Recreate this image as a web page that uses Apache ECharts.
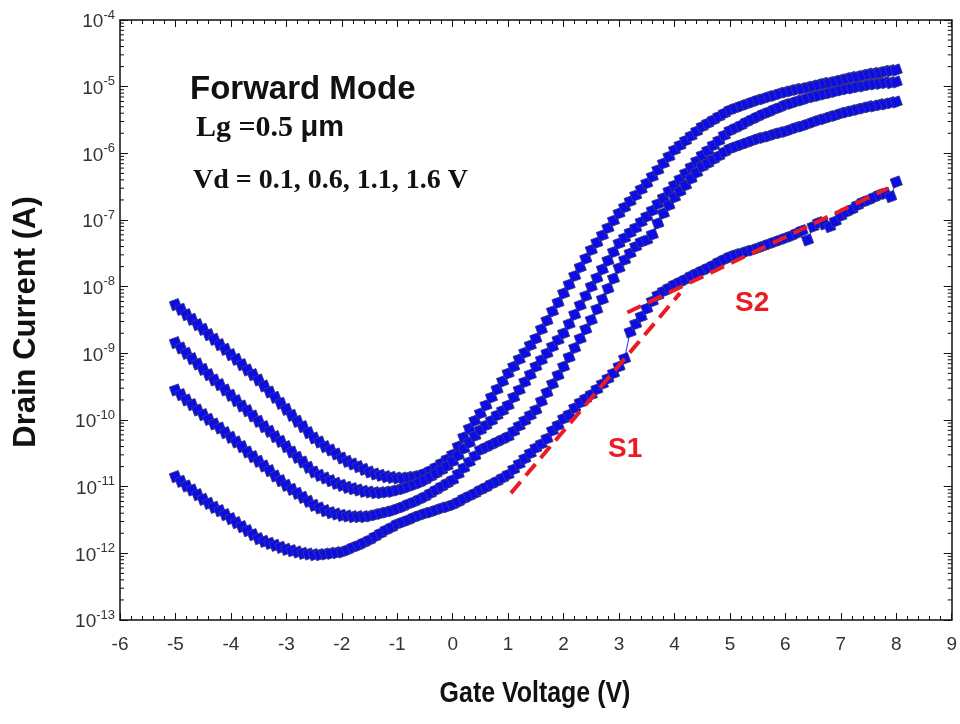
<!DOCTYPE html>
<html>
<head>
<meta charset="utf-8">
<title>Forward Mode Id-Vg</title>
<script src="https://cdn.jsdelivr.net/npm/echarts@6/dist/echarts.min.js"></script>
<style>
  html, body { margin: 0; padding: 0; background: #fff; }
  #main { width: 960px; height: 724px; }
</style>
</head>
<body>
<div id="main"></div>
<script>
// gate voltage (V), one point every 0.1 V
var vg = [
  -5.0,-4.9,-4.8,-4.7,-4.6,-4.5,-4.4,-4.3,-4.2,-4.1,
  -4.0,-3.9,-3.8,-3.7,-3.6,-3.5,-3.4,-3.3,-3.2,-3.1,
  -3.0,-2.9,-2.8,-2.7,-2.6,-2.5,-2.4,-2.3,-2.2,-2.1,
  -2.0,-1.9,-1.8,-1.7,-1.6,-1.5,-1.4,-1.3,-1.2,-1.1,
  -1.0,-0.9,-0.8,-0.7,-0.6,-0.5,-0.4,-0.3,-0.2,-0.1,
  0.0,0.1,0.2,0.3,0.4,0.5,0.6,0.7,0.8,0.9,
  1.0,1.1,1.2,1.3,1.4,1.5,1.6,1.7,1.8,1.9,
  2.0,2.1,2.2,2.3,2.4,2.5,2.6,2.7,2.8,2.9,
  3.0,3.1,3.2,3.3,3.4,3.5,3.6,3.7,3.8,3.9,
  4.0,4.1,4.2,4.3,4.4,4.5,4.6,4.7,4.8,4.9,
  5.0,5.1,5.2,5.3,5.4,5.5,5.6,5.7,5.8,5.9,
  6.0,6.1,6.2,6.3,6.4,6.5,6.6,6.7,6.8,6.9,
  7.0,7.1,7.2,7.3,7.4,7.5,7.6,7.7,7.8,7.9,
  8.0
];

// log10 of drain current (A)
// Vd = 1.6 V (top curve)
var logId16 = [
  -8.27,-8.34,-8.42,-8.49,-8.57,-8.64,-8.72,-8.79,-8.87,-8.94,
  -9.02,-9.09,-9.17,-9.25,-9.32,-9.40,-9.49,-9.58,-9.66,-9.75,
  -9.84,-9.93,-10.02,-10.10,-10.19,-10.27,-10.33,-10.40,-10.45,-10.51,
  -10.57,-10.62,-10.66,-10.70,-10.74,-10.78,-10.81,-10.83,-10.85,-10.86,
  -10.87,-10.87,-10.86,-10.85,-10.83,-10.80,-10.76,-10.71,-10.65,-10.59,
  -10.52,-10.40,-10.26,-10.13,-10.01,-9.90,-9.78,-9.66,-9.54,-9.42,
  -9.30,-9.20,-9.09,-8.99,-8.88,-8.78,-8.64,-8.51,-8.37,-8.24,
  -8.10,-7.97,-7.84,-7.71,-7.58,-7.45,-7.34,-7.23,-7.12,-7.01,
  -6.90,-6.81,-6.72,-6.63,-6.54,-6.45,-6.35,-6.25,-6.15,-6.05,
  -5.95,-5.88,-5.81,-5.74,-5.67,-5.60,-5.55,-5.50,-5.45,-5.40,
  -5.35,-5.32,-5.29,-5.26,-5.23,-5.20,-5.18,-5.15,-5.13,-5.10,
  -5.08,-5.06,-5.04,-5.03,-5.01,-4.99,-4.97,-4.95,-4.94,-4.92,
  -4.90,-4.88,-4.86,-4.85,-4.83,-4.81,-4.80,-4.79,-4.77,-4.76,
  -4.75
];
// Vd = 1.1 V
var logId11 = [
  -8.84,-8.92,-9.00,-9.08,-9.16,-9.24,-9.32,-9.40,-9.47,-9.55,
  -9.63,-9.71,-9.79,-9.86,-9.94,-10.02,-10.10,-10.17,-10.25,-10.32,
  -10.40,-10.48,-10.56,-10.63,-10.71,-10.78,-10.83,-10.87,-10.91,-10.95,
  -10.98,-11.01,-11.03,-11.05,-11.07,-11.08,-11.09,-11.09,-11.08,-11.07,
  -11.05,-11.03,-11.00,-10.97,-10.94,-10.90,-10.85,-10.80,-10.75,-10.69,
  -10.62,-10.53,-10.43,-10.34,-10.24,-10.15,-10.08,-10.01,-9.93,-9.86,
  -9.78,-9.66,-9.55,-9.43,-9.32,-9.20,-9.10,-9.00,-8.90,-8.80,
  -8.70,-8.56,-8.42,-8.28,-8.14,-8.00,-7.87,-7.74,-7.61,-7.48,
  -7.35,-7.27,-7.19,-7.12,-7.03,-6.95,-6.86,-6.76,-6.67,-6.57,
  -6.48,-6.39,-6.30,-6.21,-6.12,-6.03,-5.96,-5.88,-5.81,-5.73,
  -5.66,-5.62,-5.58,-5.53,-5.49,-5.45,-5.41,-5.38,-5.34,-5.31,
  -5.27,-5.25,-5.22,-5.20,-5.17,-5.15,-5.13,-5.11,-5.09,-5.07,
  -5.05,-5.03,-5.02,-5.00,-4.99,-4.97,-4.96,-4.95,-4.94,-4.94,
  -4.93
];
// Vd = 0.6 V
var logId06 = [
  -9.55,-9.62,-9.70,-9.77,-9.85,-9.92,-9.99,-10.06,-10.12,-10.19,
  -10.26,-10.33,-10.40,-10.48,-10.55,-10.62,-10.69,-10.76,-10.84,-10.91,
  -10.98,-11.04,-11.10,-11.16,-11.22,-11.28,-11.32,-11.36,-11.39,-11.41,
  -11.43,-11.44,-11.45,-11.45,-11.45,-11.44,-11.42,-11.40,-11.38,-11.36,
  -11.33,-11.30,-11.26,-11.23,-11.19,-11.15,-11.10,-11.05,-11.00,-10.95,
  -10.90,-10.81,-10.72,-10.63,-10.54,-10.45,-10.41,-10.37,-10.33,-10.29,
  -10.25,-10.17,-10.09,-10.01,-9.93,-9.85,-9.72,-9.59,-9.46,-9.33,
  -9.20,-9.06,-8.92,-8.78,-8.64,-8.50,-8.34,-8.19,-8.03,-7.88,
  -7.72,-7.60,-7.50,-7.40,-7.33,-7.30,-7.22,-7.05,-6.90,-6.78,
  -6.66,-6.57,-6.48,-6.38,-6.29,-6.20,-6.15,-6.09,-6.04,-5.98,
  -5.93,-5.90,-5.87,-5.84,-5.81,-5.78,-5.76,-5.74,-5.71,-5.69,
  -5.67,-5.64,-5.61,-5.59,-5.56,-5.53,-5.50,-5.48,-5.45,-5.43,
  -5.40,-5.38,-5.36,-5.34,-5.32,-5.30,-5.29,-5.27,-5.26,-5.24,
  -5.23
];
// Vd = 0.1 V (bottom curve)
var logId01 = [
  -10.85,-10.92,-10.99,-11.05,-11.12,-11.19,-11.25,-11.31,-11.36,-11.42,
  -11.48,-11.54,-11.60,-11.66,-11.72,-11.78,-11.82,-11.85,-11.88,-11.91,
  -11.94,-11.96,-11.98,-12.00,-12.01,-12.02,-12.02,-12.01,-12.00,-11.99,
  -11.98,-11.95,-11.91,-11.88,-11.84,-11.80,-11.75,-11.70,-11.65,-11.61,
  -11.56,-11.53,-11.50,-11.46,-11.43,-11.40,-11.38,-11.35,-11.32,-11.30,
  -11.27,-11.23,-11.18,-11.14,-11.10,-11.05,-11.01,-10.96,-10.92,-10.87,
  -10.82,-10.74,-10.66,-10.58,-10.50,-10.42,-10.36,-10.28,-10.16,-10.08,
  -9.98,-9.92,-9.82,-9.74,-9.68,-9.62,-9.54,-9.46,-9.38,-9.30,
  -9.20,-9.08,-8.68,-8.56,-8.45,-8.33,-8.22,-8.13,-8.07,-8.02,
  -7.97,-7.93,-7.89,-7.84,-7.80,-7.76,-7.72,-7.68,-7.63,-7.59,
  -7.55,-7.52,-7.50,-7.47,-7.45,-7.42,-7.39,-7.36,-7.33,-7.30,
  -7.27,-7.24,-7.20,-7.16,-7.30,-7.10,-7.04,-7.06,-7.10,-7.02,
  -6.94,-6.88,-6.84,-6.78,-6.73,-6.70,-6.66,-6.62,-6.60,-6.65,
  -6.43
];

// red dashed fit lines (end points)
var s1Vg = [1.05, 4.1];
var s1Id = [8e-12, 8e-9];
var s2Vg = [3.15, 7.85];
var s2Id = [4.1e-9, 3.0e-7];

var xTicks = { min: -6, max: 9, step: 1 };
var yDecades = { min: -13, max: -4 };

var SANS = '"Liberation Sans", Arial, sans-serif';
var SERIF = '"Liberation Serif", "Times New Roman", serif';

function toSeries(logs) {
    return vg.map(function (v, i) { return [v, Math.pow(10, logs[i])]; });
}
function pairs(xs, ys) {
    return xs.map(function (v, i) { return [v, ys[i]]; });
}

// minor ticks of the log axis: 2..9 x 10^n
var minorVals = [];
for (var n = yDecades.min; n < yDecades.max; n++) {
    for (var k = 2; k <= 9; k++) minorVals.push([xTicks.min, k * Math.pow(10, n)]);
}

var chart = echarts.init(document.getElementById('main'));

var curveStyle = {
    type: 'line',
    symbol: 'rect',
    symbolSize: 9.5,
    symbolRotate: 20,
    lineStyle: { color: '#2030ff', width: 1 },
    itemStyle: { color: '#0c0cea', borderColor: '#3a3a78', borderWidth: 0.8 },
    animation: false,
    z: 3
};

var xAxisBase = {
    type: 'value',
    min: xTicks.min,
    max: xTicks.max,
    interval: xTicks.step,
    axisLine: { onZero: false, lineStyle: { color: '#111', width: 1.5 } },
    axisTick: { inside: true, length: 7, lineStyle: { color: '#111', width: 1 } },
    minorTick: { show: true, splitNumber: 5, length: 4, lineStyle: { color: '#111', width: 1 } },
    splitLine: { show: false },
    minorSplitLine: { show: false }
};

var yAxisBase = {
    type: 'log',
    logBase: 10,
    min: Math.pow(10, yDecades.min),
    max: Math.pow(10, yDecades.max),
    splitNumber: 9,
    axisLine: { onZero: false, lineStyle: { color: '#111', width: 1.5 } },
    axisTick: { inside: true, length: 8, lineStyle: { color: '#111', width: 1 } },
    splitLine: { show: false }
};

var option = {
    backgroundColor: '#fff',
    animation: false,
    grid: { left: 120, right: 7, top: 20, bottom: 104, containLabel: false },
    xAxis: [
        Object.assign({}, xAxisBase, {
            position: 'bottom',
            axisLabel: { margin: 15, fontSize: 19, fontFamily: SANS, color: '#333' }
        }),
        Object.assign({}, xAxisBase, { position: 'top', axisLabel: { show: false } })
    ],
    yAxis: [
        Object.assign({}, yAxisBase, {
            position: 'left',
            axisLabel: {
                margin: 5,
                color: '#333',
                formatter: function (val) {
                    return '{b|10}{s|' + Math.round(Math.log10(val)) + '}';
                },
                rich: {
                    b: { fontSize: 19, fontFamily: SANS, color: '#333', lineHeight: 23, verticalAlign: 'bottom' },
                    s: { fontSize: 13, fontFamily: SANS, color: '#333', lineHeight: 13, verticalAlign: 'top' }
                }
            }
        }),
        Object.assign({}, yAxisBase, { position: 'right', axisLabel: { show: false } })
    ],
    series: [
        Object.assign({ name: 'Vd=1.6', data: toSeries(logId16) }, curveStyle),
        Object.assign({ name: 'Vd=1.1', data: toSeries(logId11) }, curveStyle),
        Object.assign({ name: 'Vd=0.6', data: toSeries(logId06) }, curveStyle),
        Object.assign({ name: 'Vd=0.1', data: toSeries(logId01) }, curveStyle),
        {
            name: 'S1', type: 'line', data: pairs(s1Vg, s1Id), symbol: 'none',
            lineStyle: { color: '#ea1b22', width: 4, type: [15, 8] }, z: 5
        },
        {
            name: 'S2', type: 'line', data: pairs(s2Vg, s2Id), symbol: 'none',
            lineStyle: { color: '#ea1b22', width: 4, type: [15, 8] }, z: 5
        },
        {
            // log minor ticks on left and right frame
            type: 'custom',
            data: minorVals,
            silent: true,
            z: 6,
            renderItem: function (params, api) {
                var v = api.value(1);
                var pl = api.coord([xTicks.min, v]);
                var pr = api.coord([xTicks.max, v]);
                var st = { stroke: '#111', lineWidth: 1 };
                return {
                    type: 'group',
                    children: [
                        { type: 'line', shape: { x1: pl[0], y1: pl[1], x2: pl[0] + 4, y2: pl[1] }, style: st },
                        { type: 'line', shape: { x1: pr[0], y1: pr[1], x2: pr[0] - 4, y2: pr[1] }, style: st }
                    ]
                };
            }
        }
    ],
    graphic: [
        {
            type: 'text', left: 190, top: 73,
            style: { text: 'Forward Mode', font: 'bold 33px ' + SANS, fill: '#111' }
        },
        {
            type: 'text', left: 196, top: 113,
            style: {
                text: '{t|Lg =0.5 }{u|μm}',
                rich: {
                    t: { font: 'bold 30px ' + SERIF, fill: '#111' },
                    u: { font: 'bold 29px ' + SANS, fill: '#111' }
                }
            }
        },
        {
            type: 'text', left: 193, top: 167,
            style: { text: 'Vd = 0.1, 0.6, 1.1, 1.6 V', font: 'bold 28px ' + SERIF, fill: '#111' }
        },
        {
            type: 'text', left: 608, top: 435,
            style: { text: 'S1', font: 'bold 28px ' + SANS, fill: '#ea1b22' }
        },
        {
            type: 'text', left: 735, top: 289,
            style: { text: 'S2', font: 'bold 28px ' + SANS, fill: '#ea1b22' }
        },
        {
            type: 'text', x: 535, y: 694, scaleX: 0.86,
            style: {
                text: 'Gate Voltage (V)', font: 'bold 29px ' + SANS, fill: '#111',
                align: 'center', verticalAlign: 'middle'
            }
        },
        {
            type: 'text', x: 26, y: 322, rotation: Math.PI / 2,
            style: {
                text: 'Drain Current (A)', font: 'bold 31px ' + SANS, fill: '#111',
                align: 'center', verticalAlign: 'middle'
            }
        }
    ]
};

chart.setOption(option);
</script>
</body>
</html>
